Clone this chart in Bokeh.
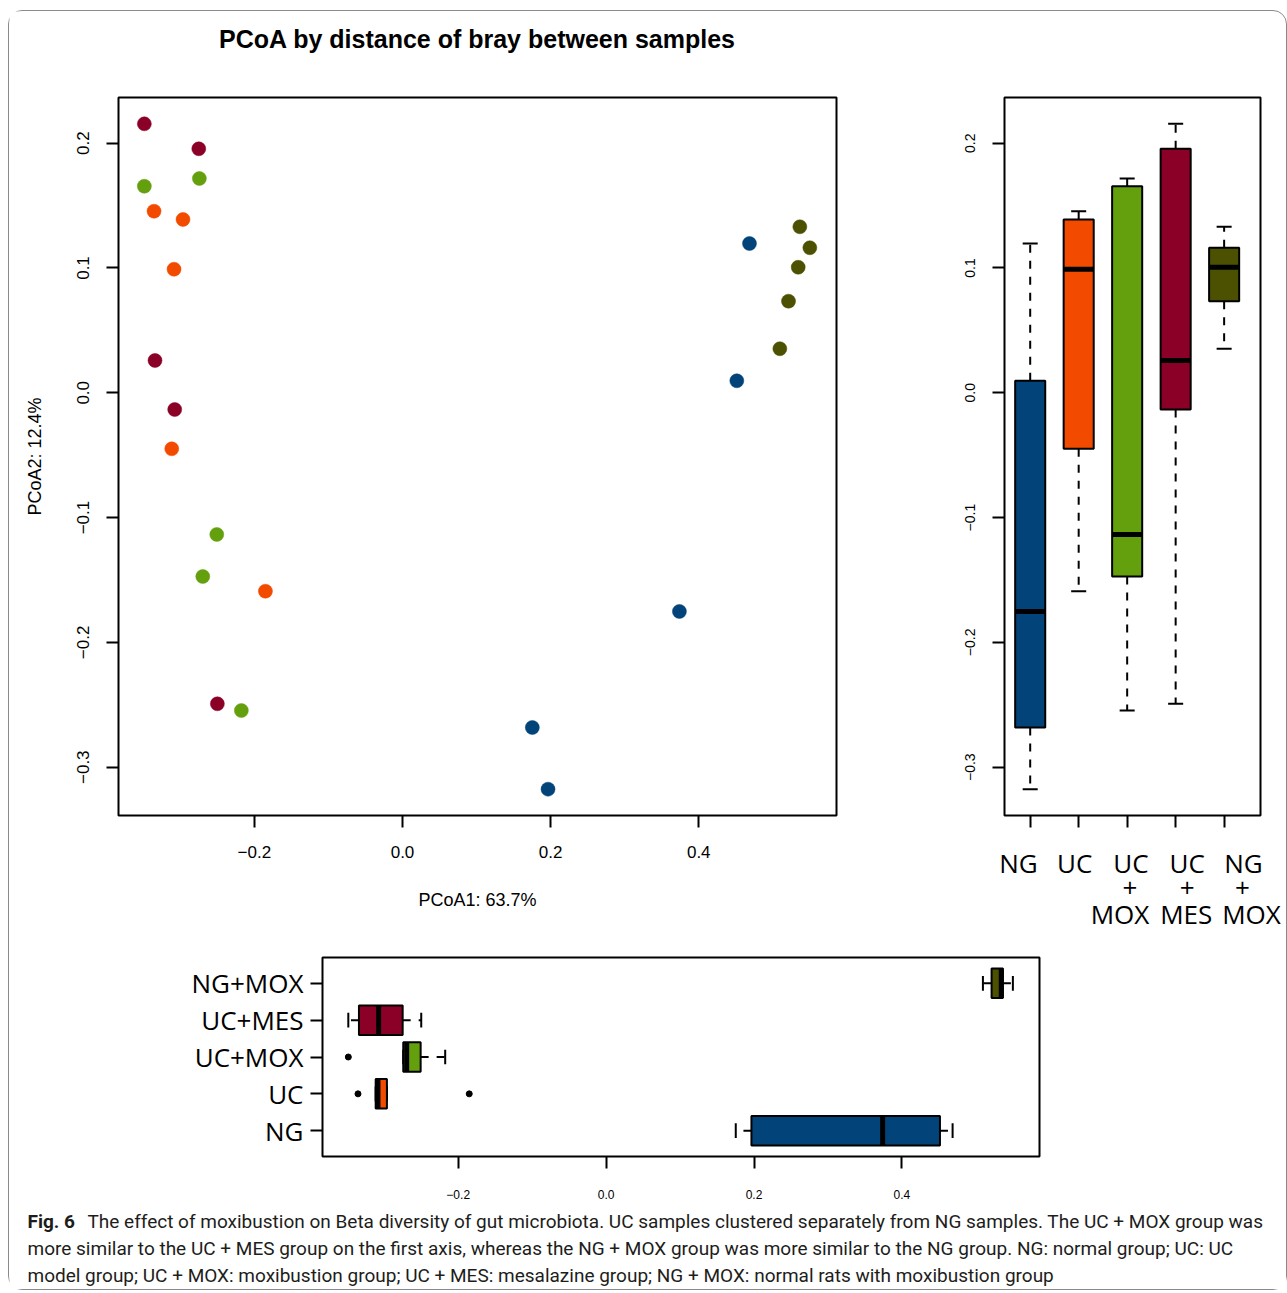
import math
from bokeh.plotting import figure
from bokeh.models import Range1d, FixedTicker, Label
from bokeh.layouts import column, row
from bokeh.embed import file_html
from bokeh.resources import INLINE

# ---------------- data ----------------
groups = ["NG", "UC", "UC+MOX", "UC+MES", "NG+MOX"]
group_box_labels = ["NG", "UC", "UC\n+\nMOX", "UC\n+\nMES", "NG\n+\nMOX"]
group_colors = ["#02437A", "#F24B00", "#64A00E", "#8B0026", "#4B5100"]

ng_x = [0.4685, 0.4514, 0.3739, 0.1753, 0.1965]
ng_y = [0.1196, 0.0096, -0.1752, -0.2682, -0.3176]
uc_x = [-0.3355, -0.2964, -0.3085, -0.3116, -0.1851]
uc_y = [0.1455, 0.1389, 0.0990, -0.0449, -0.1590]
ucmox_x = [-0.3486, -0.2743, -0.2508, -0.2697, -0.2176]
ucmox_y = [0.1655, 0.1717, -0.1135, -0.1472, -0.2546]
ucmes_x = [-0.3486, -0.2751, -0.3342, -0.3076, -0.2500]
ucmes_y = [0.2155, 0.1955, 0.0259, -0.0134, -0.2492]
ngmox_x = [0.5365, 0.5500, 0.5343, 0.5212, 0.5095]
ngmox_y = [0.1330, 0.1162, 0.1006, 0.0734, 0.0353]

xs_by_group = [ng_x, uc_x, ucmox_x, ucmes_x, ngmox_x]
ys_by_group = [ng_y, uc_y, ucmox_y, ucmes_y, ngmox_y]

x_ticks = [-0.2, 0.0, 0.2, 0.4]
x_tick_labels = ["\u22120.2", "0.0", "0.2", "0.4"]
y_ticks = [-0.3, -0.2, -0.1, 0.0, 0.1, 0.2]
y_tick_labels = ["\u22120.3", "\u22120.2", "\u22120.1", "0.0", "0.1", "0.2"]

title_text = "PCoA by distance of bray between samples"
x_label = "PCoA1: 63.7%"
y_label = "PCoA2: 12.4%"
caption_bold = "Fig. 6"
caption_lines = [
    "The effect of moxibustion on Beta diversity of gut microbiota. UC samples clustered separately from NG samples. The UC + MOX group was",
    "more similar to the UC + MES group on the first axis, whereas the NG + MOX group was more similar to the NG group. NG: normal group; UC: UC",
    "model group; UC + MOX: moxibustion group; UC + MES: mesalazine group; NG + MOX: normal rats with moxibustion group",
]

X_RANGE = (-0.3835, 0.586)
Y_RANGE = (-0.3387, 0.2366)
FONT = "Liberation Sans"
LABEL_FONT = "Open Sans"
CAP_FONT = "Roboto"


def fivenum(v):
    s = sorted(v)
    n = len(s)
    n4 = math.floor((n + 3) / 2) / 2
    d = [1, n4, (n + 1) / 2, n + 1 - n4, n]
    return [0.5 * (s[math.floor(di) - 1] + s[math.ceil(di) - 1]) for di in d]


def box_stats(v, coef=1.5):
    st = fivenum(v)
    iqr = st[3] - st[1]
    lo, hi = st[1] - coef * iqr, st[3] + coef * iqr
    inside = [a for a in v if lo <= a <= hi]
    out = [a for a in v if a < lo or a > hi]
    st[0], st[4] = min(inside), max(inside)
    return st, out


def style_axes(p):
    p.xgrid.visible = False
    p.ygrid.visible = False
    p.outline_line_color = "black"
    p.outline_line_width = 2
    p.outline_line_alpha = 1
    p.frame_align = False
    for ax in p.axis:
        ax.axis_line_color = None
        ax.major_tick_in = 0
        ax.major_tick_out = 12
        ax.major_tick_line_width = 2
        ax.major_tick_line_color = "black"
        ax.minor_tick_line_color = None
        ax.major_label_text_color = "black"
        ax.major_label_text_font = FONT
        ax.axis_label_text_font = FONT
        ax.axis_label_text_font_style = "normal"
        ax.axis_label_text_color = "black"


def text_panel(w, h, x_range=None):
    f = figure(width=w, height=h, output_backend="svg", toolbar_location=None,
               x_range=x_range if x_range is not None else Range1d(0, w),
               y_range=Range1d(0, h), x_axis_location=None, y_axis_location=None,
               min_border=0)
    f.outline_line_color = None
    f.xgrid.visible = False
    f.ygrid.visible = False
    f.frame_align = False
    return f


# ---------------- header (title) ----------------
HW, HH = 880, 50
ph = text_panel(HW, HH)
ph.add_layout(Label(x=468, y=HH - 27, text=title_text, text_font=FONT, text_font_size="25px",
                    text_font_style="bold", text_align="center", text_baseline="middle",
                    text_color="black"))

# ---------------- main PCoA scatter ----------------
p = figure(width=880, height=869, output_backend="svg", toolbar_location=None,
           x_range=Range1d(*X_RANGE), y_range=Range1d(*Y_RANGE),
           min_border_left=109, min_border_right=53, min_border_top=36, min_border_bottom=115)
style_axes(p)
for gx, gy, c in zip(xs_by_group, ys_by_group, group_colors):
    p.scatter(gx, gy, size=14, fill_color=c, line_color=c, line_width=0.5)
p.xaxis.ticker = FixedTicker(ticks=x_ticks)
p.xaxis.major_label_overrides = dict(zip(x_ticks, x_tick_labels))
p.yaxis.ticker = FixedTicker(ticks=y_ticks)
p.yaxis.major_label_overrides = dict(zip(y_ticks, y_tick_labels))
p.xaxis.major_label_text_font_size = "17px"
p.yaxis.major_label_text_font_size = "17px"
p.yaxis.major_label_orientation = "vertical"
p.xaxis.major_label_standoff = 18
p.yaxis.major_label_standoff = 17
p.xaxis.axis_label = x_label
p.yaxis.axis_label = y_label
p.xaxis.axis_label_text_font_size = "18px"
p.yaxis.axis_label_text_font_size = "18px"
p.xaxis.axis_label_standoff = 29
p.yaxis.axis_label_standoff = 30

# ---------------- right boxplot (PCoA2) ----------------
pos = [1, 2, 3, 4, 5]
RW = 397
R_LEFT, R_RIGHT = 115, 26
pr = figure(width=RW, height=778, output_backend="svg", toolbar_location=None,
            x_range=Range1d(0.47, 5.75), y_range=Range1d(*Y_RANGE),
            min_border_left=R_LEFT, min_border_right=R_RIGHT, min_border_top=36, min_border_bottom=24)
style_axes(pr)
BW = 0.62
for i, (gy, c) in enumerate(zip(ys_by_group, group_colors)):
    st, out = box_stats(gy)
    x0 = pos[i]
    pr.segment([x0, x0], [st[3], st[1]], [x0, x0], [st[4], st[0]],
               line_color="black", line_width=2, line_dash="8 8")
    pr.segment([x0 - BW / 4, x0 - BW / 4], [st[4], st[0]], [x0 + BW / 4, x0 + BW / 4], [st[4], st[0]],
               line_color="black", line_width=2)
    pr.vbar(x=[x0], bottom=[st[1]], top=[st[3]], width=BW, fill_color=c,
            line_color="black", line_width=2)
    pr.segment([x0 - BW / 2], [st[2]], [x0 + BW / 2], [st[2]], line_color="black", line_width=5)
    if out:
        pr.scatter([x0] * len(out), out, size=6, color="black")
pr.xaxis.ticker = FixedTicker(ticks=pos)
pr.xaxis.major_label_overrides = {k: "" for k in pos}
pr.xaxis.major_label_text_font_size = "0px"
pr.xaxis.major_label_standoff = 0
pr.yaxis.ticker = FixedTicker(ticks=y_ticks)
pr.yaxis.major_label_overrides = dict(zip(y_ticks, y_tick_labels))
pr.yaxis.major_label_text_font_size = "14px"
pr.yaxis.major_label_orientation = "vertical"
pr.yaxis.major_label_standoff = 17

# group names under the right panel, on their own (wider-spaced) label scale
LH = 91
pl = text_panel(RW, LH, x_range=Range1d(-1.293, 5.764))
line_rows = [LH - 23, LH - 48, LH - 74]
line_shift = [[0, 0, 0], [0, 0, 0], [0, -1, -11], [0, 0, -1], [0, -1, 8]]
for xpos, lab, shifts in zip(pos, group_box_labels, line_shift):
    for ly, part, dx in zip(line_rows, lab.split("\n"), shifts):
        pl.add_layout(Label(x=xpos, y=ly, x_offset=dx, text=part, text_font=LABEL_FONT,
                            text_font_size="26px", text_align="center", text_baseline="middle",
                            text_color="black"))

# ---------------- bottom boxplot (PCoA1) ----------------
pb = figure(width=1277, height=274, output_backend="svg", toolbar_location=None,
            x_range=Range1d(*X_RANGE), y_range=Range1d(0.3, 5.7),
            min_border_left=313, min_border_right=247, min_border_top=27, min_border_bottom=48)
style_axes(pb)
BH = 0.8
for i, (gx, c) in enumerate(zip(xs_by_group, group_colors)):
    st, out = box_stats(gx)
    y0 = pos[i]
    pb.segment([st[3], st[1]], [y0, y0], [st[4], st[0]], [y0, y0],
               line_color="black", line_width=2, line_dash="8 8")
    pb.segment([st[4], st[0]], [y0 - BH / 4, y0 - BH / 4], [st[4], st[0]], [y0 + BH / 4, y0 + BH / 4],
               line_color="black", line_width=2)
    pb.hbar(y=[y0], left=[st[1]], right=[st[3]], height=BH, fill_color=c,
            line_color="black", line_width=2)
    pb.segment([st[2]], [y0 - BH / 2], [st[2]], [y0 + BH / 2], line_color="black", line_width=5)
    if out:
        pb.scatter(out, [y0] * len(out), size=6, color="black")
pb.xaxis.ticker = FixedTicker(ticks=x_ticks)
pb.xaxis.major_label_overrides = dict(zip(x_ticks, x_tick_labels))
pb.xaxis.major_label_text_font_size = "12px"
pb.xaxis.major_label_standoff = 21
pb.yaxis.ticker = FixedTicker(ticks=pos)
pb.yaxis.major_label_overrides = dict(zip(pos, groups))
pb.yaxis.major_label_text_font = LABEL_FONT
pb.yaxis.major_label_text_font_size = "26px"
pb.yaxis.major_label_standoff = 7

# ---------------- caption ----------------
CW, CH = 1277, 85
pc = text_panel(CW, CH)
line_y = [CH - 17, CH - 44, CH - 71]
pc.add_layout(Label(x=18, y=line_y[0], text=caption_bold, text_font=CAP_FONT, text_font_size="19px",
                    text_font_style="bold", text_baseline="middle", text_color="#1d1d1b"))
for k, (ly, txt) in enumerate(zip(line_y, caption_lines)):
    pc.add_layout(Label(x=78 if k == 0 else 18, y=ly, text=txt, text_font=CAP_FONT,
                        text_font_size="19px", text_baseline="middle", text_color="#1d1d1b"))

layout = column(ph, row(p, column(pr, pl)), pb, pc,
                styles={"border": "1px solid #8a8a8a", "border-radius": "14px",
                        "margin-left": "8px", "margin-top": "10px"})

open("out.html", "w").write(file_html(layout, INLINE))
